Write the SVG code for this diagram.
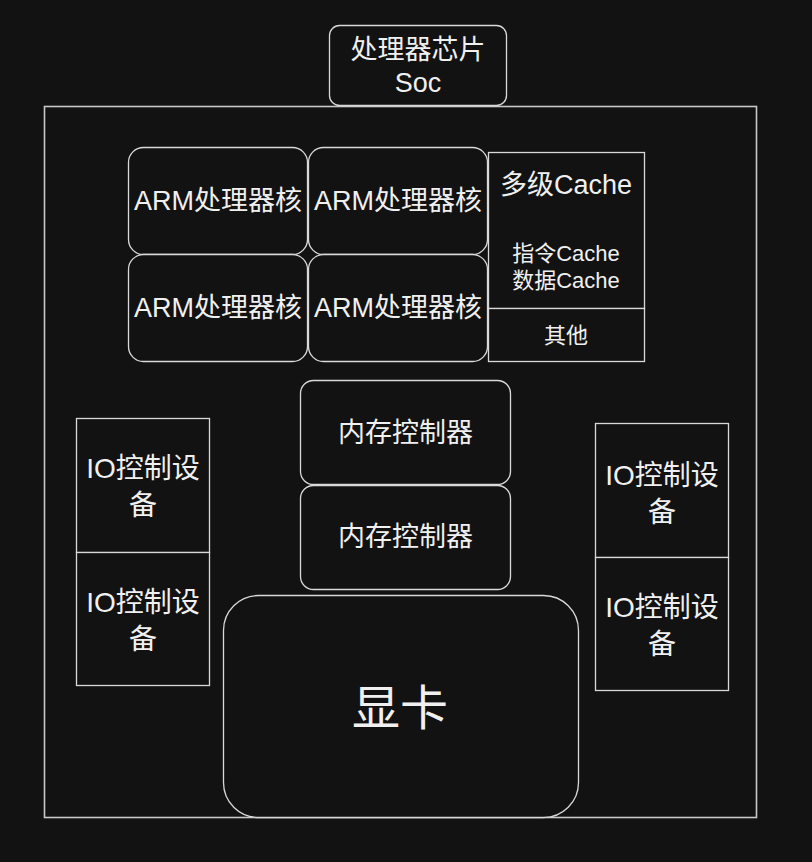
<svg xmlns="http://www.w3.org/2000/svg" width="812" height="862" viewBox="0 0 812 862">
<style>
.bg{fill:#121212}
.n{fill:#121212;stroke:#d9d9d9;stroke-width:1.3}
.o{fill:none;stroke:#c8c8c8;stroke-width:1.6}
text{font-family:"Liberation Sans","Noto Sans CJK SC",sans-serif;fill:#f0f0f0;text-anchor:middle}
.t{font-size:27px}
.io{font-size:28px}
.s{font-size:22px}
.b{font-size:48px}
</style>
<rect class="bg" x="0" y="0" width="812" height="862"/>
<g id="soc-frame"><rect class="o" x="44.5" y="106.5" width="712" height="711"/></g>
<g id="soc-label">
<rect class="n" x="329.5" y="25.5" width="177" height="80" rx="10"/>
<text class="t" x="418" y="59">处理器芯片</text>
<text class="t" x="418" y="92">Soc</text>
</g>
<g id="arm1"><rect class="n" x="128.5" y="147.5" width="179" height="107" rx="15"/><text class="t" x="218" y="210">ARM处理器核</text></g>
<g id="arm2"><rect class="n" x="308.5" y="147.5" width="179" height="107" rx="15"/><text class="t" x="398" y="210">ARM处理器核</text></g>
<g id="arm3"><rect class="n" x="128.5" y="254.5" width="179" height="107" rx="15"/><text class="t" x="218" y="317">ARM处理器核</text></g>
<g id="arm4"><rect class="n" x="308.5" y="254.5" width="179" height="107" rx="15"/><text class="t" x="398" y="317">ARM处理器核</text></g>
<g id="cache">
<rect class="n" x="488.5" y="152.5" width="156" height="156"/>
<text class="t" x="566" y="194">多级Cache</text>
<text class="s" x="566" y="261">指令Cache</text>
<text class="s" x="566" y="288">数据Cache</text>
</g>
<g id="other"><rect class="n" x="488.5" y="308.5" width="156" height="53"/><text class="s" x="566" y="343">其他</text></g>
<g id="mem1"><rect class="n" x="300.5" y="380.5" width="210" height="104" rx="13"/><text class="t" x="405.5" y="442">内存控制器</text></g>
<g id="mem2"><rect class="n" x="300.5" y="485.5" width="210" height="104" rx="13"/><text class="t" x="405.5" y="546">内存控制器</text></g>
<g id="io-l1"><rect class="n" x="76.5" y="418.5" width="133" height="134"/><text class="io" x="143" y="478">IO控制设</text><text class="io" x="143" y="515">备</text></g>
<g id="io-l2"><rect class="n" x="76.5" y="552.5" width="133" height="133"/><text class="io" x="143" y="612">IO控制设</text><text class="io" x="143" y="649">备</text></g>
<g id="io-r1"><rect class="n" x="595.5" y="423.5" width="133" height="134"/><text class="io" x="662" y="485">IO控制设</text><text class="io" x="662" y="522">备</text></g>
<g id="io-r2"><rect class="n" x="595.5" y="557.5" width="133" height="133"/><text class="io" x="662" y="617">IO控制设</text><text class="io" x="662" y="654">备</text></g>
<g id="gpu"><rect class="n" x="223.5" y="595.5" width="355" height="222" rx="35"/><text class="b" x="400" y="725">显卡</text></g>
<g id="connectors"></g>
</svg>
